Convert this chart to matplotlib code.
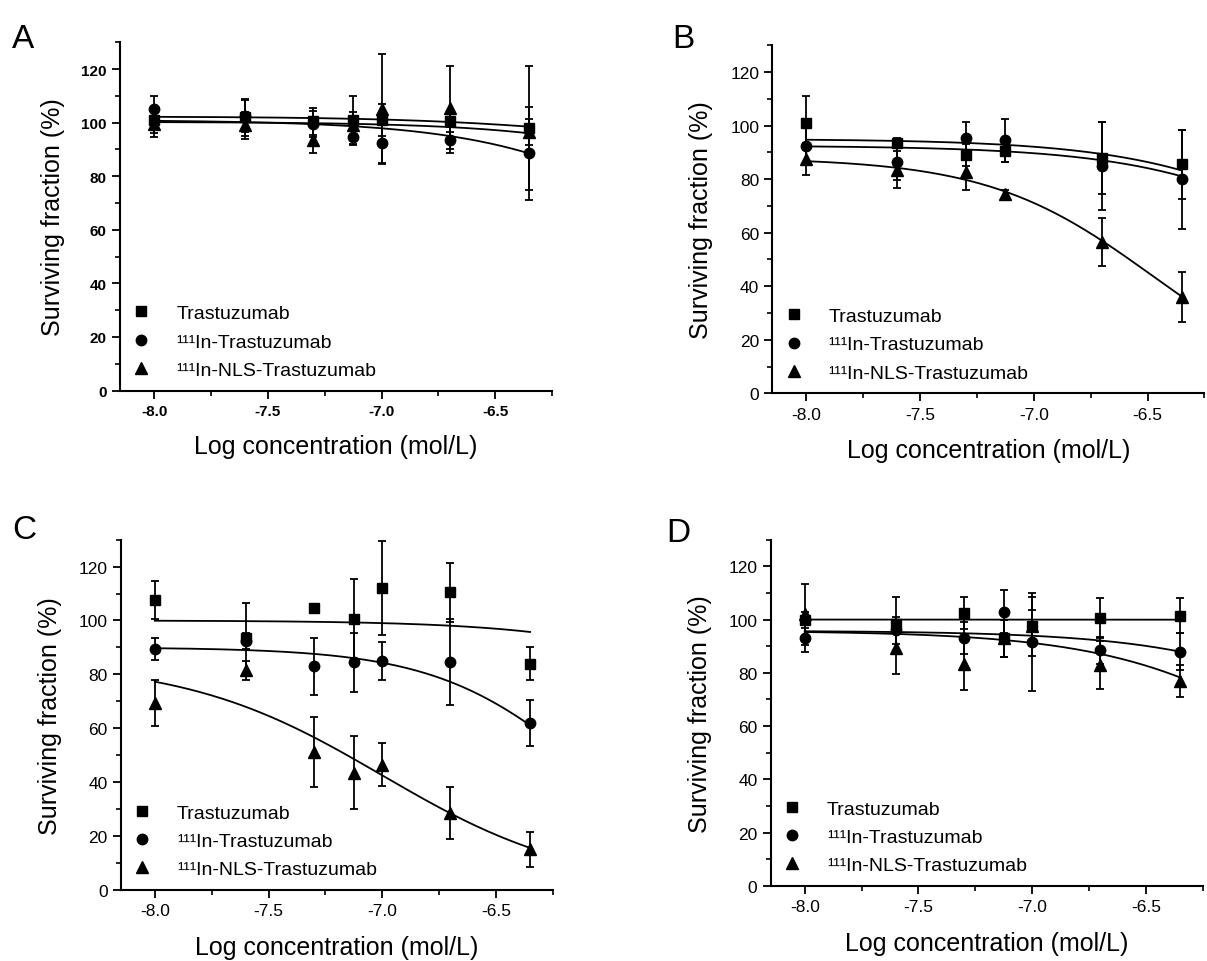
import matplotlib
matplotlib.use('Agg')
import matplotlib.pyplot as plt
from matplotlib.lines import Line2D
from matplotlib.ticker import MultipleLocator
import numpy as np

plt.rcParams['font.family'] = ['Liberation Sans', 'DejaVu Sans']

## log concentration (mol/L) of the doses
x7 = [-8.0, -7.6, -7.3, -7.125, -7.0, -6.7, -6.35]
x6 = [-8.0, -7.6, -7.3, -7.125, -6.7, -6.35]   # panel B has no -7.0 point

series_names = ['Trastuzumab', '¹¹¹In-Trastuzumab', '¹¹¹In-NLS-Trastuzumab']
panel_letters = ['A', 'B', 'C', 'D']

## panel A
a_tras = [101, 102, 100.5, 101, 101, 100.5, 98]
a_tras_err = [5, 7, 5, 9, 6, 4, 23]
a_in = [105, 102.5, 99.5, 94.5, 92.5, 93.5, 88.5]
a_in_err = [5, 6, 5, 3, 7.5, 5, 17.5]
a_nls = [99.5, 99, 93.5, 99, 105, 105.5, 96.5]
a_nls_err = [5, 5, 5, 5, 20.5, 15.5, 5]

## panel B
b_tras = [101, 93.5, 89, 90.5, 88, 85.5]
b_tras_err = [10, 2, 4, 4, 13.5, 13]
b_in = [92.5, 86.5, 95.5, 94.5, 85, 80]
b_in_err = [7, 7, 6, 8, 16.5, 18.5]
b_nls = [87.5, 83.5, 82.5, 74.5, 56.5, 36]
b_nls_err = [6, 7, 6.5, 1.5, 9, 9.5]

## panel C
c_tras = [107.5, 93.5, 104.5, 100.5, 112, 110.5, 84]
c_tras_err = [7, 13, 1.5, 15, 17.5, 11, 6]
c_in = [89.5, 92.5, 83, 84.5, 85, 84.5, 62]
c_in_err = [4, 3, 10.5, 11, 7, 16, 8.5]
c_nls = [69.5, 81.5, 51, 43.5, 46.5, 28.5, 15]
c_nls_err = [8.5, 3.5, 13, 13.5, 8, 9.5, 6.5]

## panel D
d_tras = [100, 98.5, 102.5, 93, 97.5, 100.5, 101.5]
d_tras_err = [3, 10, 6, 7, 6, 7.5, 6.5]
d_in = [93, 96, 93, 103, 91.5, 88.5, 88]
d_in_err = [5, 5, 6, 8, 18.5, 5, 7]
d_nls = [102, 89.5, 83.5, 93, 97.5, 83, 77]
d_nls_err = [11.5, 10, 10, 7, 11, 9, 6]

## dose-response fit parameters: top, bottom, logEC50, hill
a_fits = [[102.3, 90, -6.0, 1.0], [101, 0, -5.5, 1.0], [100.3, 0, -5.0, 1.0]]
b_fits = [[95, 0, -5.5, 1.0], [92.5, 0, -5.5, 1.0], [88, 0, -6.48, 1.2]]
c_fits = [[100, 0, -5.0, 1.0], [90, 0, -6.1, 1.3], [85, 0, -7.0, 1.0]]
d_fits = [[100, 0, -3.0, 1.0], [95.8, 0, -5.3, 1.0], [95.8, 0, -5.7, 1.0]]

def fourpl(x, top, bottom, logec50, hill):
    return bottom + (top - bottom) / (1 + 10 ** (hill * (x - logec50)))

panels = [
    (x7, [a_tras, a_in, a_nls], [a_tras_err, a_in_err, a_nls_err], a_fits),
    (x6, [b_tras, b_in, b_nls], [b_tras_err, b_in_err, b_nls_err], b_fits),
    (x7, [c_tras, c_in, c_nls], [c_tras_err, c_in_err, c_nls_err], c_fits),
    (x7, [d_tras, d_in, d_nls], [d_tras_err, d_in_err, d_nls_err], d_fits),
]

markers = ['s', 'o', '^']
msizes = [7, 7.5, 9]

fig = plt.figure(figsize=(12.07, 9.62), dpi=100)
# axes boxes in figure fractions (left, bottom, width, height)
boxes = [(0.0994, 0.593, 0.358, 0.362),
         (0.6399, 0.590, 0.358, 0.362),
         (0.1000, 0.074, 0.358, 0.364),
         (0.6385, 0.078, 0.358, 0.360)]
letter_pos = [(0.010, 0.975), (0.557, 0.975), (0.010, 0.465), (0.552, 0.462)]

for i, (x, ys, errs, fits) in enumerate(panels):
    ax = fig.add_axes(boxes[i])
    xs = np.linspace(x[0], x[-1], 200)
    for j in range(3):
        ax.errorbar(x, ys[j], yerr=errs[j], fmt=markers[j], color='k', ms=msizes[j],
                    capsize=3, elinewidth=1.3, capthick=1.3)
        ax.plot(xs, fourpl(xs, *fits[j]), color='k', lw=1.3)
    ax.set_xlim(-8.15, -6.25)
    ax.set_ylim(0, 130)
    ax.xaxis.set_major_locator(MultipleLocator(0.5))
    ax.xaxis.set_minor_locator(MultipleLocator(0.25))
    ax.yaxis.set_major_locator(MultipleLocator(20))
    ax.yaxis.set_minor_locator(MultipleLocator(10))
    ax.set_xticks([-8.0, -7.5, -7.0, -6.5])
    ax.set_xticklabels(['-8.0', '-7.5', '-7.0', '-6.5'])
    ax.spines['top'].set_visible(False)
    ax.spines['right'].set_visible(False)
    ax.spines['left'].set_linewidth(1.5)
    ax.spines['bottom'].set_linewidth(1.5)
    ax.tick_params(which='major', direction='out', length=6, width=1.3, labelsize=12.5)
    ax.tick_params(which='minor', direction='out', length=3.5, width=1.2)
    if i == 0:
        for lab in ax.get_xticklabels() + ax.get_yticklabels():
            lab.set_fontweight('bold')
            lab.set_fontsize(11)
    ax.set_ylabel('Surviving fraction (%)', fontsize=18, labelpad=12)
    ax.set_xlabel('Log concentration (mol/L)', fontsize=18, labelpad=12)
    handles = [Line2D([], [], ls='none', marker=markers[j], color='k', ms=msizes[j]) for j in range(3)]
    ax.legend(handles, series_names, loc='lower left', frameon=False, fontsize=14,
              handlelength=1.0, handletextpad=1.3, labelspacing=0.55, borderaxespad=0.3,
              borderpad=0.3)
    fig.text(letter_pos[i][0], letter_pos[i][1], panel_letters[i], fontsize=24, va='top', ha='left')

fig.savefig('out.png', dpi=100)
